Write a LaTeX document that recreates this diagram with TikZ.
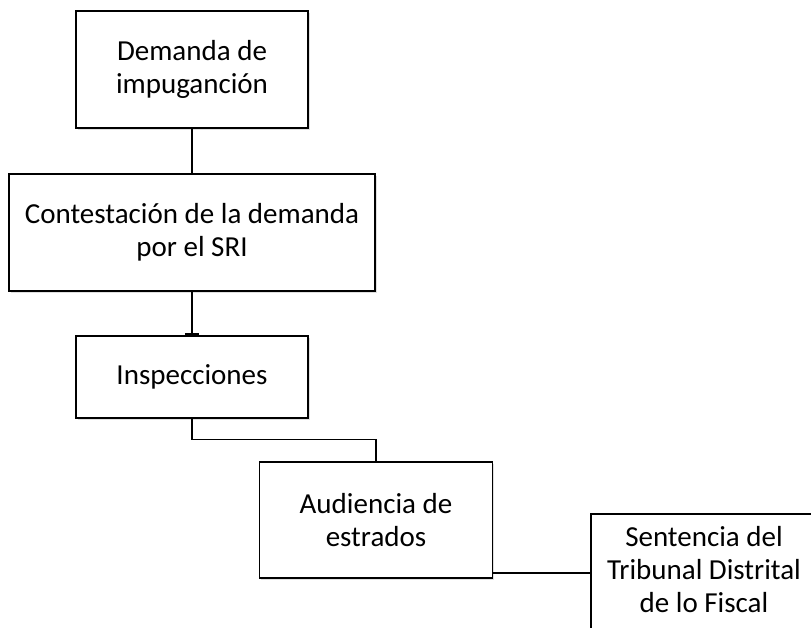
\documentclass[tikz,border=0pt]{standalone}
\usepackage{fontspec}
\setmainfont{Carlito}
\usepackage{tikz}
\usetikzlibrary{arrows.meta,shadows}

\tikzset{
  caja/.style={draw, line width=1.3pt, fill=white, align=center, inner sep=0pt,
    drop shadow={shadow xshift=1.5pt, shadow yshift=-2pt, opacity=0.25}},
  linea/.style={line width=1.3pt}
}

\begin{document}
\begin{tikzpicture}[x=1pt, y=1pt]
  
  \fontsize{29}{33}\selectfont
  
  \path[use as bounding box, clip] (0,0) rectangle (811,627);

  \node[caja, minimum width=232pt, minimum height=117pt] (demanda) at (192, 557.5) {Demanda de\\impuganción};
  \node[caja, minimum width=366pt, minimum height=117pt] (contest) at (192, 394.5) {Contestación de la demanda\\por el SRI};
  \node[caja, minimum width=232pt, minimum height=82pt] (insp) at (192, 250) {Inspecciones};
  \node[caja, minimum width=233pt, minimum height=116pt] (audien) at (376, 107) {Audiencia de\\estrados};
  %% la caja sigue fuera del borde derecho
  \node[caja, minimum width=258pt, minimum height=118pt] (sentencia) at (720, 54)
    {\begin{tabular}{@{}c@{\hspace{32pt}}}Sentencia del\\Tribunal Distrital\\de lo Fiscal\end{tabular}};

  \draw[linea] (demanda.south) -- (contest.north); %% A->B
  \draw[linea, -{Bar[width=14pt, line width=2pt]}] (contest.south) -- (insp.north); %% B->C
  \draw[linea] (insp.south) -- ++(0,-21) -| (audien.north); %% C->D
  \draw[linea] (sentencia.west -| audien.east) -- (sentencia.west); %% D->E
\end{tikzpicture}
\end{document}
